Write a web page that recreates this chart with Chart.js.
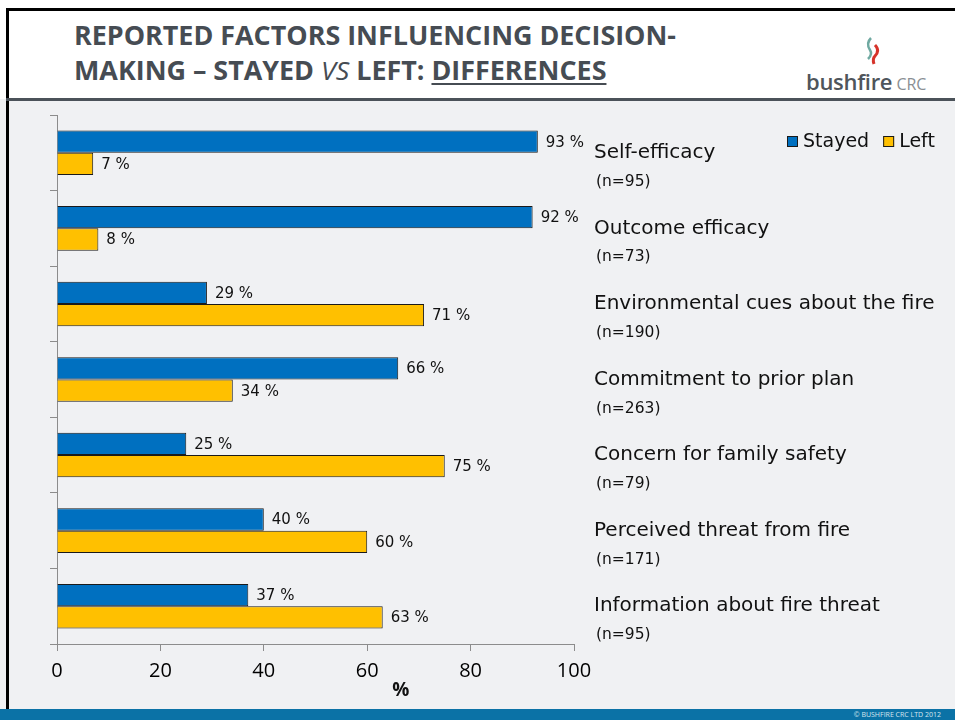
<!DOCTYPE html>
<html>
<head>
<meta charset="utf-8">
<script src="https://cdn.jsdelivr.net/npm/chart.js@4/dist/chart.umd.min.js"></script>
<style>
  html, body { margin: 0; padding: 0; }
  body { width: 955px; height: 720px; position: relative; overflow: hidden; background: #f0f1f3; }
  #header { position: absolute; left: 0; top: 0; width: 955px; height: 99px; background: #fff; }
  #frameTop { position: absolute; left: 6px; top: 8px; width: 949px; height: 3px; background: #000; }
  #frameLeft { position: absolute; left: 6px; top: 8px; width: 3px; height: 701px; background: #000; }
  #sep { position: absolute; left: 6px; top: 98px; width: 949px; height: 3px; background: #4b5259; }
  #title { position: absolute; left: 74px; top: 18px; transform-origin: 0 0; white-space: nowrap;
    font-family: "Open Sans", sans-serif; font-weight: 700; font-size: 26px; line-height: 35px; color: #464c53; }
  #title u { text-decoration-thickness: 2px; text-underline-offset: 3px; }
  #logo { position: absolute; left: 806px; top: 66px; font-family: "Open Sans", sans-serif; white-space: nowrap; }
  #logo .b { font-size: 22px; font-weight: 600; color: #4f555b; letter-spacing: -0.3px; }
  #logo .c { font-size: 16px; color: #8a8f94; }
  #flame { position: absolute; left: 862px; top: 36px; }
  #footer { position: absolute; left: 0; top: 709px; width: 955px; height: 11px; background: #0b72a6; }
  #copy { position: absolute; right: 14px; top: 710px; font-family: "Open Sans", sans-serif; font-size: 7px; color: #d6e6ef; }
  #chart { position: absolute; left: 0; top: 0; }
</style>
</head>
<body>
<div id="header"></div>
<div id="frameTop"></div>
<div id="frameLeft"></div>
<div id="sep"></div>
<div id="title"><span id="line1">REPORTED FACTORS INFLUENCING DECISION-</span><br>MAKING – STAYED <i style="font-weight:400">VS</i> LEFT: <u>DIFFERENCES</u></div>
<svg id="flame" width="22" height="30" viewBox="0 0 22 30">
  <path d="M9 2 C4 7 6 11 8 14 C10 17 9 20 6 23" stroke="#6fa9a1" stroke-width="2.5" fill="none"/>
  <path d="M13 9 C17 13 16 17 13 20 C11 22 11 25 12 28" stroke="#d6332a" stroke-width="3" fill="none"/>
</svg>
<div id="logo"><span class="b">bushfire</span> <span class="c">CRC</span></div>
<div id="footer"></div>
<div id="copy">© BUSHFIRE CRC LTD 2012</div>
<canvas id="chart" width="955" height="720"></canvas>
<script>
// chart data
const categories = [
  'Self-efficacy',
  'Outcome efficacy',
  'Environmental cues about the fire',
  'Commitment to prior plan',
  'Concern for family safety',
  'Perceived threat from fire',
  'Information about fire threat',
];
const sampleSizes = ['(n=95)', '(n=73)', '(n=190)', '(n=263)', '(n=79)', '(n=171)', '(n=95)'];
const stayed = [93, 92, 29, 66, 25, 40, 37];
const left = [7, 8, 71, 34, 75, 60, 63];
const xTicks = [0, 20, 40, 60, 80, 100];
const xTitle = '%';

// squeeze the title to the condensed width of the original
const line1 = document.getElementById('line1');
const titleEl = document.getElementById('title');
titleEl.style.transform = 'scaleX(' + (602 / line1.getBoundingClientRect().width) + ')';

// value labels, category labels, legend and axis title
const annotate = {
  id: 'annotate',
  afterDatasetsDraw(chart) {
    const ctx = chart.ctx;
    const area = chart.chartArea;
    const yScale = chart.scales.y;
    const xScale = chart.scales.x;
    ctx.save();
    ctx.fillStyle = '#111';
    ctx.textBaseline = 'middle';
    ctx.textAlign = 'left';

    ctx.font = '15px "DejaVu Sans"';
    chart.data.datasets.forEach((ds, d) => {
      chart.getDatasetMeta(d).data.forEach((bar, i) => {
        ctx.fillText(ds.data[i] + ' %', bar.x + 8, bar.y + 1);
      });
    });

    categories.forEach((name, i) => {
      const y = yScale.getPixelForValue(i);
      ctx.font = '20px "DejaVu Sans"';
      ctx.fillText(name, area.right + 20, y);
      ctx.font = '15.5px "DejaVu Sans"';
      ctx.fillText(sampleSizes[i], area.right + 22, y + 29);
    });

    // legend
    let lx = chart.width - 168;
    const ly = area.top + 27;
    ctx.font = '19px "DejaVu Sans"';
    chart.data.datasets.forEach((ds) => {
      ctx.fillStyle = ds.backgroundColor;
      ctx.fillRect(lx, ly - 6, 11, 11);
      ctx.strokeStyle = '#1a1a1a';
      ctx.lineWidth = 1;
      ctx.strokeRect(lx + 0.5, ly - 5.5, 10, 10);
      ctx.fillStyle = '#111';
      ctx.fillText(ds.label, lx + 16, ly);
      lx += 16 + ctx.measureText(ds.label).width + 14;
    });

    // axis title
    ctx.font = 'bold 19px "Open Sans"';
    ctx.textAlign = 'center';
    ctx.fillText(xTitle, xScale.getPixelForValue(66.5), area.bottom + 47);
    ctx.restore();
  },
};

new Chart(document.getElementById('chart'), {
  type: 'bar',
  data: {
    labels: categories,
    datasets: [
      {
        label: 'Stayed',
        data: stayed,
        backgroundColor: '#0070c0',
        borderColor: '#1a1a1a',
        borderWidth: 1,
      },
      {
        label: 'Left',
        data: left,
        backgroundColor: '#ffc000',
        borderColor: '#1a1a1a',
        borderWidth: 1,
      },
    ],
  },
  options: {
    indexAxis: 'y',
    responsive: false,
    animation: false,
    datasets: {
      bar: {
        categoryPercentage: 0.59,
        barPercentage: 1,
      },
    },
    layout: {
      padding: { left: 50, right: 381, top: 115, bottom: 29 },
    },
    plugins: {
      legend: { display: false },
      tooltip: { enabled: false },
    },
    scales: {
      x: {
        min: 0,
        max: 100,
        afterBuildTicks: (scale) => {
          scale.ticks = xTicks.map((v) => ({ value: v }));
        },
        grid: {
          drawOnChartArea: false,
          tickLength: 7,
          color: '#8c8c8c',
        },
        border: { color: '#8c8c8c' },
        ticks: {
          padding: 8,
          color: '#000',
          font: { family: 'Open Sans', size: 20 },
        },
      },
      y: {
        offset: true,
        grid: {
          offset: true,
          drawOnChartArea: false,
          tickLength: 7,
          color: '#8c8c8c',
        },
        border: { color: '#8c8c8c' },
        ticks: { display: false },
      },
    },
  },
  plugins: [annotate],
});
</script>
</body>
</html>
